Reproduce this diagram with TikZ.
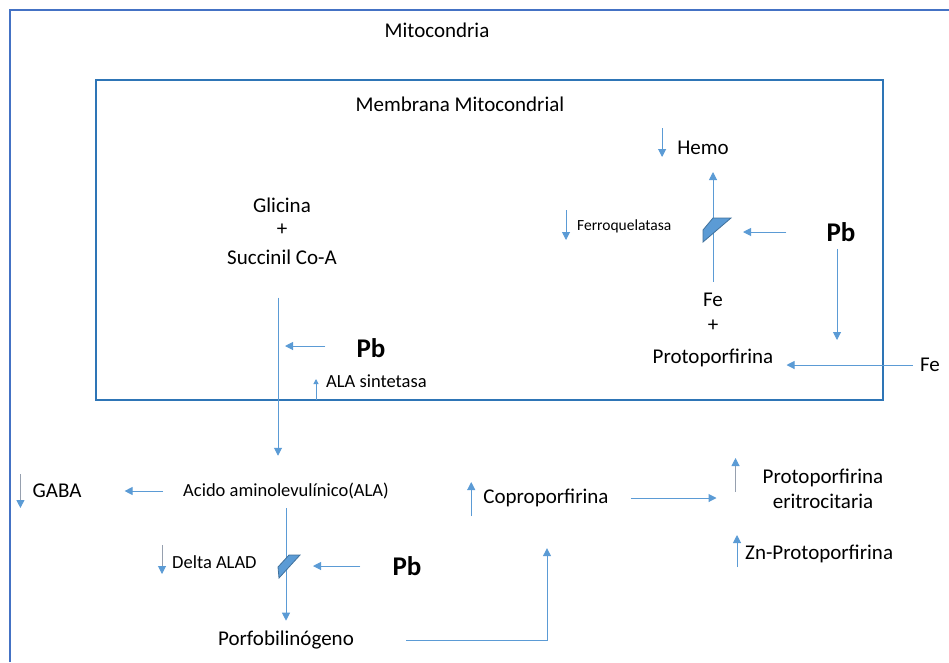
\documentclass[tikz,border=0pt]{standalone}
\usepackage{fontspec}
\setmainfont{Carlito}
\usepackage{tikz}
\usetikzlibrary{arrows.meta,positioning}

\definecolor{arrowblue}{RGB}{91,155,213}
\definecolor{boxblue}{RGB}{68,114,196}
\definecolor{membblue}{RGB}{46,117,182}
\definecolor{shaftgray}{RGB}{150,160,175}
\definecolor{enzedge}{RGB}{65,113,156}

\tikzset{
  txt/.style={font=\fontsize{21}{25}\selectfont, inner sep=0pt},
  smalltxt/.style={font=\fontsize{18.5}{22}\selectfont, inner sep=0pt},
  tinytxt/.style={font=\fontsize{15.5}{18}\selectfont, inner sep=0pt},
  lead/.style={font=\bfseries\fontsize{27}{30}\selectfont, inner sep=0pt},
  flow/.style={draw=arrowblue, line width=1pt, -{Triangle[width=8pt,length=8pt]}},
  grayflow/.style={flow, draw=shaftgray, -{Triangle[width=8pt,length=8pt,color=arrowblue]}},
  tinyflow/.style={flow, -{Triangle[width=5pt,length=5pt]}},
  enzblock/.style={fill=arrowblue, draw=enzedge, line width=0.8pt}
}

\begin{document}
\begin{tikzpicture}[x=1pt,y=-1pt]
  \useasboundingbox (0,0) rectangle (949,662);
  \draw[boxblue, line width=2.5pt] (10,662) -- (10,10) -- (949,10);
  \draw[membblue, line width=1.5pt] (96,80) rectangle (883,400);

  \node[txt] (mito) at (437,30) {Mitocondria};
  \node[txt] (memb) at (460,104) {Membrana Mitocondrial};

  % hemo synthesis
  \node[txt] (hemo) at (703,148) {Hemo};
  \node[tinytxt, anchor=west] (ferro) at (577,226) {Ferroquelatasa};
  \node[lead] (pba) at (841,232) {Pb};
  \node[txt] (fe) at (713,300) {Fe};
  \node[txt] (plusa) at (713,326) {+};
  \node[txt] (proto) at (713,358) {Protoporfirina};
  \node[txt] (feout) at (930,365) {Fe};
  \coordinate (blka) at (713,230);
  \coordinate (pbinhib) at (837,340);

  \draw[flow] ([yshift=11pt]fe.north) -- ([xshift=10pt,yshift=-17pt]hemo.south);
  \draw[enzblock, shift={(blka)}] (-10,0) -- (0,-12) -- (18,-12) -- (-10,12) -- cycle;
  \draw[flow] ([xshift=-40pt]pba.west) -- ([xshift=30pt]blka |- pba.west);
  \draw[flow] ([xshift=-4pt,yshift=-7pt]pba.south) -- (pbinhib);
  \draw[flow] ([xshift=-7pt]feout.west) -- ([xshift=13pt]proto.east |- feout.west);
  \draw[flow] ([xshift=-15pt,yshift=20pt]hemo.west) -- ++(0pt,-29pt);
  \draw[flow] ([xshift=-11pt,yshift=16pt]ferro.west) -- ++(0pt,-30pt);

  % ALA synthesis
  \node[txt] (glic) at (282,205) {Glicina};
  \node[txt] (plusb) at (282,230) {+};
  \node[txt] (succ) at (282,257) {Succinil Co-A};
  \node[lead] (pbb) at (371,348) {Pb};
  \node[smalltxt, anchor=west] (alas) at (326,381) {ALA sintetasa};
  \node[smalltxt] (ala) at (286,491) {Acido aminolevulínico(ALA)};
  \coordinate (synth) at (278,346);

  \draw[flow] ([xshift=-4pt,yshift=-33pt]succ.south) -- ([xshift=-8pt,yshift=27pt]ala.north);
  \draw[flow] ([xshift=-31pt,yshift=2pt]pbb.west) -- ([xshift=7pt]synth);
  \draw[tinyflow] ([xshift=-10pt,yshift=-19pt]alas.west) -- ++(0pt,21pt);

  % outside the membrane
  \node[txt] (gaba) at (57,491) {GABA};
  \node[smalltxt, anchor=west] (alad) at (172,562) {Delta ALAD};
  \node[lead] (pbc) at (407,566) {Pb};
  \node[txt] (pbg) at (286,640) {Porfobilinógeno};
  \node[txt] (copro) at (546,498) {Coproporfirina};
  \node[txt, align=center] (ppe) at (823,489) {Protoporfirina\\eritrocitaria};
  \node[txt, anchor=west] (znp) at (745,554) {Zn-Protoporfirina};
  \coordinate (blkb) at (287,566);

  \draw[flow] ([xshift=-20pt]ala.west) -- ([xshift=43pt]gaba.east);
  \draw[flow] ([yshift=-9pt]ala.south) -- ([yshift=10pt]pbg.north);
  \draw[enzblock, shift={(blkb)}] (-9,1) -- (2,-11) -- (13,-11) -- (-8,12) -- cycle;
  \draw[flow] ([xshift=-32pt]pbc.west) -- ([xshift=26pt]blkb);
  \draw[flow] ([xshift=52pt]pbg.east) -| ([xshift=1pt,yshift=-41pt]copro.south);
  \draw[flow] ([xshift=22pt]copro.east) -- ([xshift=-46pt]ppe.west |- copro.east);

  \draw[grayflow] ([xshift=-12pt,yshift=17pt]gaba.west) -- ++(0pt,-34pt);
  \draw[grayflow] ([xshift=-10pt,yshift=17pt]alad.west) -- ++(0pt,-29pt);
  \draw[flow] ([xshift=-12pt,yshift=-18pt]copro.west) -- ++(0pt,34pt);
  \draw[grayflow] ([xshift=-27pt,yshift=-3pt]ppe.west) -- ++(0pt,34pt);
  \draw[flow] ([xshift=-8pt,yshift=-13pt]znp.west) -- ++(0pt,32pt);
\end{tikzpicture}
\end{document}
